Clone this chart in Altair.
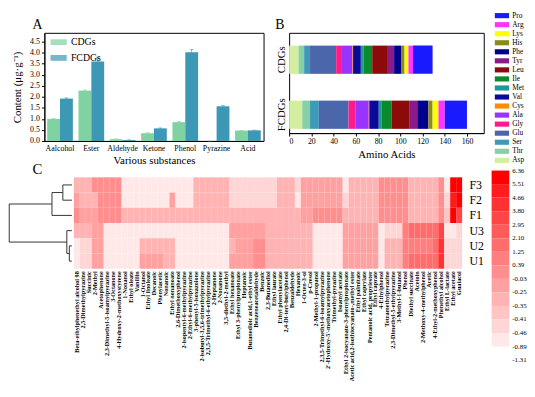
import altair as alt
import pandas as pd

FONT = "Liberation Serif"

# ---------------- Panel A data ----------------
substances = ["Aalcohol", "Ester", "Aldehyde", "Ketone", "Phenol", "Pyrazine", "Acid"]
groups_a = ["CDGs", "FCDGs"]
colors_a = ["#80d2a2", "#3c98b5"]
cdgs_vals = [1.00, 2.28, 0.08, 0.35, 0.85, 0.00, 0.47]
cdgs_err = [0.02, 0.03, 0.02, 0.02, 0.03, 0.00, 0.01]
fcdgs_vals = [1.92, 3.60, 0.04, 0.57, 4.02, 1.57, 0.48]
fcdgs_err = [0.03, 0.20, 0.01, 0.02, 0.13, 0.03, 0.01]
y_ticks_a = [0.0, 0.5, 1.0, 1.5, 2.0, 2.5, 3.0, 3.5, 4.0, 4.5]

# ---------------- Panel B data ----------------
amino = ["Asp", "Thr", "Ser", "Glu", "Gly", "Ala", "Cys", "Val", "Met",
         "Ile", "Leu", "Tyr", "Phe", "His", "Lys", "Arg", "Pro"]
amino_colors = ["#d4eea0", "#86d0a4", "#3d9ab8", "#4c66ac", "#ff1a8c", "#9933ff",
                "#ff8c00", "#0a0a96", "#1a9a9a", "#0a8a2a", "#8c0a0a", "#8b1a8b",
                "#00008b", "#8b8b1a", "#ffff00", "#ff33ff", "#1a1aff"]
cdgs_aa = [8.5, 5.0, 5.3, 23.5, 4.4, 10.3, 0.5, 7.0, 2.3, 7.9, 14.1, 5.6, 6.2, 3.2, 3.5, 4.1, 17.6]
fcdgs_aa = [11.8, 7.0, 7.9, 26.7, 6.5, 11.7, 0.5, 8.5, 2.3, 9.4, 15.6, 7.3, 10.0, 3.8, 5.3, 5.6, 20.0]
samples_b = ["CDGs", "FCDGs"]
x_ticks_b = [0, 20, 40, 60, 80, 100, 120, 140, 160]

# ---------------- Panel C data ----------------
compounds = [
    "Beta-ethylphenethyl alcohol 98", "2,5-Dimethylpyrazine", "Succinic", "2-Methyl",
    "Acetophenone", "2,3-Dimethyl-5-isoamylpyrazine", "3-Octanone",
    "4-Hydroxy-2-methoxystyrene", "1-Nonanol", "Ethyl oleate", "Vanillin", "1-Octanol",
    "Ethyl linoleate", "Decanoic", "Phenylacetic", "Nonanoic", "Ethyl nonanoate",
    "2,6-Dimethoxyphenol", "2-isopentyl-6-methylpyrazine", "2-Ethyl-6-methylpyrazine",
    "3-phenyl-5-isoxazolone", "2-isobutyl-3,5,6-trimethylpyrazine",
    "2,3,5-Trimethyl-6-ethylpyrazine", "2-Heptanone", "2-Nonanone", "3,5-diethyl-2-methyl",
    "Ethyl hexanoate", "Ethyl 3-phenylpropionate", "Heptanoic",
    "Butanedioic acid,1-ethyl ester", "Benzeneacetaldehyde", "Benzoic", "2,3-Butanediol",
    "Ethyl laurate", "Ethyl phenylacetate", "2,4-Di-tert-butylphenol", "Benzaldehyde",
    "Hexanoic", "1-Octen-3-ol", "p-Cresol", "2-Methyl-1-propanol",
    "2,3,5-Trimethyl-6-isoamylpyrazine", "2'-Hydroxy-5'-methoxyacetophenone",
    "Trimethyl-pyrazine", "Isoamyl acetate", "Ethyl 2-isocyanato-3-phenylpropionate",
    "Acetic acid,2-isothiocyanato-,methyl ester", "Ethyl palmitate", "Ethyl caprylate",
    "Pentanoic acid, propylester", "Ethyl caprate", "4-Ethylphenol", "Tetramethylpyrazine",
    "2,3-Dimethyl-5-ethylpyrazine", "3-Methyl-1-butanol", "Phenol", "Diethyl succinate",
    "Acetoin", "2-Methoxy-4-methylphenol", "Acetic", "4-Ethyl-2-methoxyphenol",
    "Phenethyl alcohol", "Ethyl L-lactate", "Ethyl acetate", "Guaiacol"]
samples_c = ["F3", "F2", "F1", "U3", "U2", "U1"]
row_F3 = [-0.3, -0.3, -0.3, 0.2, 0.2, 0.2, 0.2, 0.2, -0.7, -0.7, -0.7, -0.7, -0.7,
          -0.7, -0.7, -0.7, -0.7, -0.7, -0.7, -0.7, -0.3, -0.3, -0.3, -0.3, -0.3, -0.3,
          -0.44, -0.44, -0.44, -0.44, -0.44, -0.44, -0.44, -0.44, -0.3, -0.3, -0.3, -0.44,
          -0.15, -0.15, -0.15, -0.15, -0.15, -0.15, -0.15, -0.7, -0.3, -0.3, -0.3, -0.3,
          -0.3, 0.3, 0.3, 0.3, 0.3, 0.3, -0.3, -0.3, -0.3, -0.3, -0.3, 0.2, -0.7, 5.8, 5.8]
row_F2 = [-0.15, -0.3, -0.3, -0.3, 0.2, 0.2, 0.2, 0.2, -0.7, -0.7, -0.7, -0.7, -0.7,
          -0.7, -0.7, -0.7, -0.15, -0.7, -0.7, -0.7, -0.3, -0.3, -0.3, -0.3, -0.3, -0.3,
          -0.44, -0.44, -0.44, -0.44, -0.44, -0.44, -0.44, -0.44, -0.3, -0.3, -0.3, -0.7,
          -0.15, -0.15, -0.15, -0.15, -0.15, -0.15, -0.15, -0.44, -0.3, -0.3, -0.3, -0.3,
          -0.3, 0.3, 0.3, 0.3, 0.3, 0.3, -0.3, -0.3, -0.3, -0.3, -0.3, 0.2, -0.44, 5.0, 6.2]
row_F1 = [0.2, -0.15, -0.15, -0.15, 0.2, 0.2, 0.2, 0.2, -0.3, -0.3, -0.3, -0.3, -0.3,
          -0.3, -0.3, -0.3, -0.3, -0.3, -0.3, -0.3, -0.3, -0.3, -0.3, -0.3, -0.3, -0.3,
          -0.3, -0.3, -0.3, -0.3, -0.3, -0.3, -0.3, -0.3, -0.3, -0.3, -0.3, -0.3,
          -0.15, -0.15, 0.1, 0.1, 0.1, 0.1, 0.1, -0.3, -0.3, -0.3, -0.3, -0.3,
          -0.3, 0.3, 0.3, 0.3, 0.3, 0.3, -0.3, -0.3, -0.3, -0.3, -0.3, 0.2, -0.38, 6.0, 3.5]
row_U3 = [-0.3, -0.3, -0.3, -0.15, -0.15, -0.7, -0.7, -0.7, -0.7, -0.7, -0.7, -0.7, -0.7,
          -0.7, -0.7, -0.7, -0.7, -0.7, -0.7, -0.7, -0.7, -0.7, -0.7, -0.7, -0.7, -0.7,
          -0.15, -0.15, -0.15, -0.15, -0.15, -0.15, -0.3, -0.3, -0.3, -0.3, -0.3, -0.3,
          -0.3, -0.3, -0.7, -0.7, -0.7, -0.7, -0.7, -0.15, -0.15, -0.15, -0.15, -0.15,
          -0.15, -0.7, -0.44, -0.44, -0.44, 0.6, 1.5, 1.5, 1.5, 1.5, 1.5, 3.5, -0.7, -0.7, -0.44]
row_U2 = [-0.7, -0.44, -0.44, -0.15, -0.15, -0.7, -0.7, -0.7, -0.7, -0.7, -0.7, -0.3, -0.3,
          -0.3, -0.3, -0.3, -0.3, -0.7, -0.7, -0.7, -0.7, -0.7, -0.7, -0.7, -0.7, -0.7,
          -0.3, -0.15, -0.15, -0.15, 0.2, 0.2, -0.3, -0.3, -0.3, -0.3, -0.3, -0.3,
          -0.3, -0.3, -0.7, -0.7, -0.7, -0.7, -0.7, -0.15, -0.15, -0.15, -0.15, -0.15,
          -0.15, -0.7, -0.3, -0.3, -0.3, 0.6, 1.2, 1.2, 1.2, 1.2, 1.7, 4.2, -0.44, -0.44, -0.44]
row_U1 = [-0.7, -0.44, -0.44, -0.15, -0.15, -0.7, -0.7, -0.7, -0.7, -0.7, -0.7, -0.15, -0.15,
          -0.15, -0.15, -0.3, -0.3, -0.7, -0.7, -0.7, -0.7, -0.7, -0.7, -0.7, -0.7, -0.7,
          -0.15, -0.15, -0.15, -0.15, 0.2, 0.2, -0.3, -0.3, -0.3, -0.3, -0.3, -0.3,
          -0.3, -0.3, -0.7, -0.7, -0.7, -0.7, -0.7, -0.15, -0.15, -0.15, -0.15, -0.15,
          -0.15, -0.7, -0.3, -0.3, -0.3, 0.6, 1.5, 1.5, 1.5, 1.5, 1.5, 3.8, -0.44, -0.44, -0.44]
heat_rows = [row_F3, row_F2, row_F1, row_U3, row_U2, row_U1]

# dendrogram linkages (left child, right child, merge height)
link_left = ["F3", "F3+F2", "U2", "U3", "F3+F2+F1"]
link_right = ["F2", "F1", "U1", "U2+U1", "U3+U2+U1"]
link_height = [2.5, 5.5, 0.7, 1.4, 17.3]

# colour bar
cbar_labels = ["6.36", "5.51", "4.66", "3.80", "2.95", "2.10", "1.25", "0.39",
               "-0.03", "-0.25", "-0.35", "-0.41", "-0.46", "-0.89", "-1.31"]
cbar_colors = ["#ff0000", "#ff1c1c", "#ff3131", "#ff4646", "#ff5a5a", "#ff6c6c", "#ff7e7e",
               "#ff8f8f", "#ffa1a1", "#ffb3b3", "#ffc4c4", "#ffd6d6", "#ffe8e8"]
thresholds = [-0.46, -0.41, -0.35, -0.25, -0.03, 0.39, 1.25, 2.10, 2.95, 3.80, 4.66, 5.51]

RECT_SYMBOL = "M-1,-0.36H1V0.36H-1Z"

# ================= Panel A =================
rows_a = []
for i, s in enumerate(substances):
    for g, vals, errs in (("CDGs", cdgs_vals, cdgs_err), ("FCDGs", fcdgs_vals, fcdgs_err)):
        rows_a.append({"sub": s, "grp": g, "v": vals[i],
                       "lo": max(vals[i] - errs[i], 0), "hi": vals[i] + errs[i]})
df_a = pd.DataFrame(rows_a)

y_title_a = "Content (μg·g\u207b\u00b9)"
y_scale_a = alt.Scale(domain=[0, 4.9], nice=False, zero=True)
x_a = alt.X("sub:N", sort=substances,
            scale=alt.Scale(paddingInner=0.18, paddingOuter=0.09),
            axis=alt.Axis(title="Various substances", labelAngle=0, ticks=False,
                          labelFontSize=8, titleFontSize=11, labelPadding=4,
                          titlePadding=2, titleFontWeight="normal"))
xo_a = alt.XOffset("grp:N", sort=groups_a)
color_a = alt.Color("grp:N", scale=alt.Scale(domain=groups_a, range=colors_a),
                    legend=alt.Legend(title=None, orient="none", legendX=6, legendY=1,
                                      symbolType=RECT_SYMBOL, symbolSize=270,
                                      labelFontSize=10, labelFont=FONT, rowPadding=2,
                                      symbolStrokeWidth=0))
y_axis_a = alt.Axis(title=y_title_a, values=y_ticks_a, format=".1f", labelFontSize=8,
                    titleFontSize=11, tickSize=3, grid=False, titlePadding=7,
                    titleFontWeight="normal", labelOverlap=False)

bars_a = alt.Chart(df_a).mark_bar().encode(
    x=x_a, xOffset=xo_a,
    y=alt.Y("v:Q", scale=y_scale_a, axis=y_axis_a, stack=None),
    color=color_a)
err_a = alt.Chart(df_a).mark_rule(strokeWidth=0.8).encode(
    x=x_a, xOffset=xo_a,
    y=alt.Y("lo:Q", scale=y_scale_a, axis=y_axis_a, stack=None), y2="hi:Q",
    color=color_a)
cap_a = alt.Chart(df_a).mark_tick(thickness=0.8, size=4).encode(
    x=x_a, xOffset=xo_a,
    y=alt.Y("hi:Q", scale=y_scale_a, axis=y_axis_a, stack=None),
    color=color_a)

chart_a = alt.layer(bars_a, err_a, cap_a).properties(
    width=223, height=110,
    view=alt.ViewBackground(stroke="black", strokeWidth=1),
    title=alt.TitleParams("A", anchor="start", frame="group", dx=-12, offset=1,
                          fontSize=14, font=FONT, fontWeight="normal"))

# ================= Panel B =================
rows_b = []
for s, vals in (("CDGs", cdgs_aa), ("FCDGs", fcdgs_aa)):
    for k, aa in enumerate(amino):
        rows_b.append({"smp": s, "aa": aa, "amt": vals[k], "idx": k})
df_b = pd.DataFrame(rows_b)

chart_b = alt.Chart(df_b).mark_bar().encode(
    y=alt.Y("smp:N", sort=samples_b,
            scale=alt.Scale(paddingInner=0.487, paddingOuter=0.155, align=0.75),
            axis=alt.Axis(title=None, labelAngle=-90, labelFontSize=11, ticks=False,
                          domain=False, labelPadding=3)),
    x=alt.X("amt:Q", stack="zero", scale=alt.Scale(domain=[0, 175], nice=False),
            axis=alt.Axis(title="Amino Acids", values=x_ticks_b, labelFontSize=8,
                          titleFontSize=11, tickSize=3, grid=False,
                          titleFontWeight="normal", titlePadding=3)),
    color=alt.Color("aa:N", scale=alt.Scale(domain=amino, range=amino_colors), legend=None),
    order=alt.Order("idx:Q", sort="ascending"),
).properties(
    width=198, height=102,
    view=alt.ViewBackground(stroke="black", strokeWidth=1),
    title=alt.TitleParams("B", anchor="start", frame="group", dx=-14, offset=1,
                          fontSize=14, font=FONT, fontWeight="normal"))

# legend of panel B (Pro on top ... Asp at bottom), entries start above the plot top
LEG_STEP = 9.2      # px between entries
LEG_LIFT = 17.5     # px that the first entry sits above the panel top
LEG_H = 132
leg_start = LEG_LIFT / LEG_STEP
df_leg = pd.DataFrame({"aa": amino[::-1], "col": amino_colors[::-1],
                       "pos": list(range(len(amino))), "xs": 0.5, "xt": 1.0})
y_leg = alt.Scale(domain=[leg_start, leg_start + LEG_H / LEG_STEP], reverse=True,
                  nice=False, zero=False)
leg_sym = alt.Chart(df_leg).mark_point(shape=RECT_SYMBOL, size=210, filled=True,
                                       opacity=1, strokeWidth=0).encode(
    y=alt.Y("pos:Q", scale=y_leg, axis=None),
    x=alt.X("xs:Q", scale=alt.Scale(domain=[0, 1]), axis=None),
    color=alt.Color("col:N", scale=None))
leg_txt = alt.Chart(df_leg).mark_text(align="left", baseline="middle", dx=3, fontSize=7.5,
                                      font=FONT).encode(
    y=alt.Y("pos:Q", scale=y_leg, axis=None),
    x=alt.X("xt:Q", scale=alt.Scale(domain=[0, 1]), axis=None),
    text="aa:N")
legend_b = alt.layer(leg_sym, leg_txt).properties(width=15, height=LEG_H)

# ================= Panel C: dendrogram =================
nodes = {name: (i, 0.0) for i, name in enumerate(samples_c)}
segs = []
for a, b, h in zip(link_left, link_right, link_height):
    ya, ha = nodes[a]
    yb, hb = nodes[b]
    segs.append({"x": h, "x2": h, "y": ya, "y2": yb})
    segs.append({"x": ha, "x2": h, "y": ya, "y2": ya})
    segs.append({"x": hb, "x2": h, "y": yb, "y2": yb})
    nodes[a + "+" + b] = ((ya + yb) / 2.0, h)
df_d = pd.DataFrame(segs)

dendro = alt.Chart(df_d).mark_rule(color="#333333", strokeWidth=1).encode(
    x=alt.X("x:Q", scale=alt.Scale(domain=[0, 7.6], reverse=True, nice=False, zero=False),
            axis=None),
    x2="x2:Q",
    y=alt.Y("y:Q", scale=alt.Scale(domain=[-0.5, 5.5], reverse=True, nice=False, zero=False),
            axis=None),
    y2="y2:Q",
).properties(width=28, height=93,
             title=alt.TitleParams("C", anchor="start", frame="group", dx=-12, offset=0,
                                   fontSize=15, font=FONT, fontWeight="normal"))

# ================= Panel C: heatmap =================
rows_c = []
for r, smp in enumerate(samples_c):
    for c, cmp in enumerate(compounds):
        rows_c.append({"cmp": cmp, "smp": smp, "val": heat_rows[r][c]})
df_c = pd.DataFrame(rows_c)

heat = alt.Chart(df_c).mark_rect().encode(
    x=alt.X("cmp:N", sort=compounds, scale=alt.Scale(paddingInner=0, paddingOuter=0),
            axis=alt.Axis(title=None, labelAngle=-90, labelFontSize=6.3, labelFontWeight="bold",
                          ticks=False, domain=False, labelPadding=2, labelLimit=200,
                          labelFont=FONT, labelOverlap=False)),
    y=alt.Y("smp:N", sort=samples_c, scale=alt.Scale(paddingInner=0, paddingOuter=0),
            axis=alt.Axis(title=None, orient="right", ticks=False, domain=False,
                          labelFontSize=12, labelPadding=7, labelFont=FONT)),
    color=alt.Color("val:Q", scale=alt.Scale(type="threshold", domain=thresholds,
                                             range=cbar_colors[::-1]), legend=None),
).properties(width=395, height=93)

# ================= colour bar =================
df_cb = pd.DataFrame({"lo": list(range(len(cbar_colors))),
                      "hi": [i + 1 for i in range(len(cbar_colors))],
                      "col": cbar_colors, "x0": 0, "x1": 1})
df_cbl = pd.DataFrame({"pos": list(range(len(cbar_labels))), "lab": cbar_labels, "x": 1})
y_cb = alt.Scale(domain=[0.5, 14], reverse=True, nice=False, zero=False)
cb_rect = alt.Chart(df_cb).mark_rect().encode(
    y=alt.Y("lo:Q", scale=y_cb, axis=None), y2="hi:Q",
    x=alt.X("x0:Q", scale=alt.Scale(domain=[0, 1]), axis=None), x2="x1:Q",
    color=alt.Color("col:N", scale=None))
cb_text = alt.Chart(df_cbl).mark_text(align="left", baseline="middle", dx=3, fontSize=7,
                                      font=FONT).encode(
    y=alt.Y("pos:Q", scale=y_cb, axis=None),
    x=alt.X("x:Q", scale=alt.Scale(domain=[0, 1]), axis=None),
    text="lab:N")
cbar = alt.layer(cb_rect, cb_text).properties(width=18, height=186)

# ================= compose =================
RES = dict(color="independent", x="independent", y="independent")
top = alt.hconcat(chart_a, chart_b, legend_b, spacing=10).resolve_scale(**RES)
left_c = alt.hconcat(dendro, heat, spacing=0).resolve_scale(**RES)
bottom = alt.hconcat(left_c, cbar, spacing=8).resolve_scale(**RES)

chart = alt.vconcat(top, bottom, spacing=-4).resolve_scale(**RES).properties(
    padding=0
).configure(font=FONT).configure_view(strokeWidth=0).configure_axis(
    labelColor="black", titleColor="black", domainColor="black", tickColor="black",
    labelFont=FONT, titleFont=FONT)

chart.save("out.html", embed_options={"renderer": "svg", "actions": False})
